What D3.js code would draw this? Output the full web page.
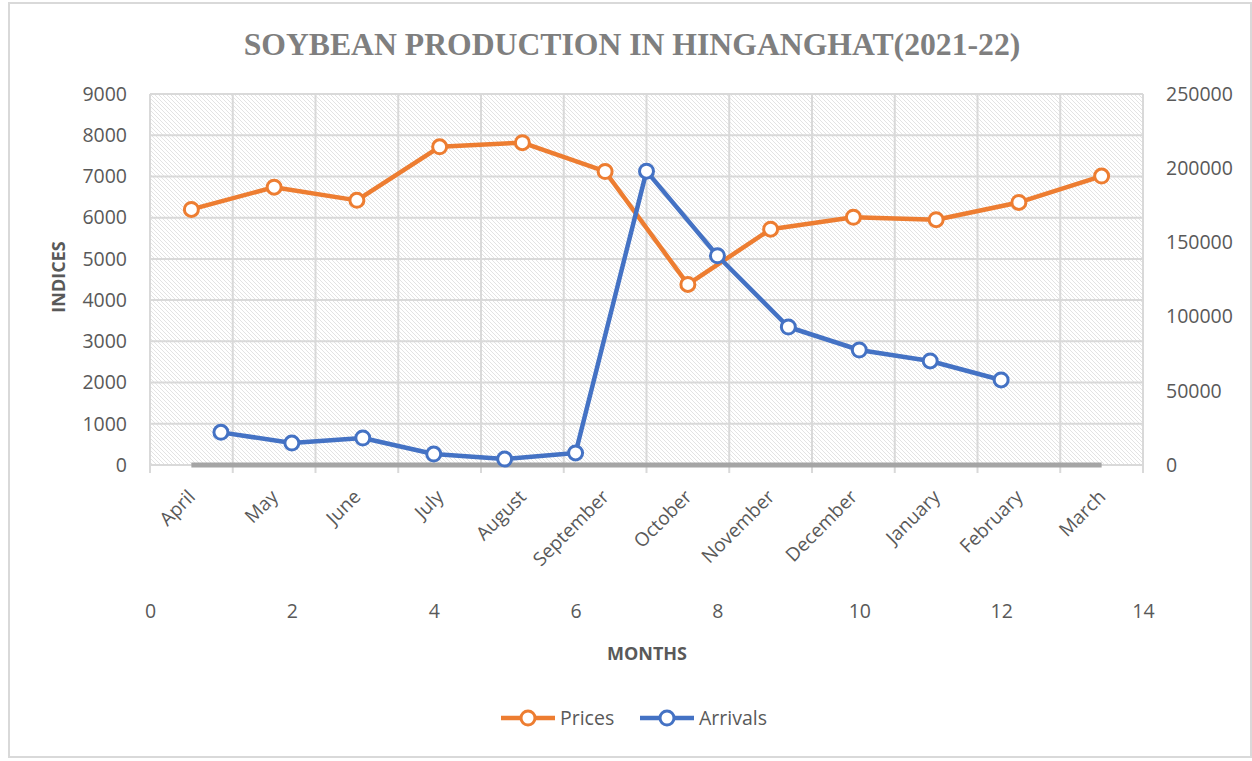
<!DOCTYPE html>
<html>
<head>
<meta charset="utf-8">
<script src="https://cdn.jsdelivr.net/npm/d3@7"></script>
<style>
  html, body { margin: 0; padding: 0; background: #fff; }
  svg { display: block; }
  text { font-family: "Open Sans", "Liberation Sans", sans-serif; }
</style>
</head>
<body>
<svg id="chart" width="1252" height="761"></svg>
<script>
const months = ["April","May","June","July","August","September","October","November","December","January","February","March"];
const prices = [6200, 6740, 6420, 7720, 7820, 7120, 4380, 5720, 6010, 5950, 6370, 7010];
const baseline = [0, 0, 0, 0, 0, 0, 0, 0, 0, 0, 0, 0];
const arrivalMonths = [1, 2, 3, 4, 5, 6, 7, 8, 9, 10, 11, 12];
const arrivals = [22000, 14800, 18200, 7400, 4000, 8100, 198000, 141000, 93000, 77500, 70100, 57300];
const leftTicks = [0, 1000, 2000, 3000, 4000, 5000, 6000, 7000, 8000, 9000];
const rightTicks = [0, 50000, 100000, 150000, 200000, 250000];
const bottomTicks = [0, 2, 4, 6, 8, 10, 12, 14];

const L = 150, R = 1143, T = 94, B = 465;
const textColor = "#595959", gridColor = "#d9d9d9";
const orange = "#ED7D31", blue = "#4472C4", gray = "#A5A5A5";
const fmt = d3.format("d");

const svg = d3.select("#chart");

// outer border
svg.append("rect").attr("x", 9).attr("y", 3).attr("width", 1242).attr("height", 754)
  .attr("fill", "#fff").attr("stroke", gridColor).attr("stroke-width", 2);

// pattern
const defs = svg.append("defs");
const pat = defs.append("pattern").attr("id", "hatch").attr("patternUnits", "userSpaceOnUse")
  .attr("width", 4).attr("height", 4);
pat.append("rect").attr("width", 4).attr("height", 4).attr("fill", "#fff");
pat.append("path").attr("d", "M-1,-1 L5,5 M-1,3 L1,5 M3,-1 L5,1")
  .attr("stroke", "#e3e3e3").attr("stroke-width", 1);

const xBand = d3.scaleBand().domain(months).range([L, R]).padding(0);
const xc = m => xBand(m) + xBand.bandwidth() / 2;
const xLin = d3.scaleLinear().domain([0, 14]).range([L, R]);
const yL = d3.scaleLinear().domain([0, 9000]).range([B, T]);
const yR = d3.scaleLinear().domain([0, 250000]).range([B, T]);

svg.append("rect").attr("x", L).attr("y", T).attr("width", R - L).attr("height", B - T)
  .attr("fill", "url(#hatch)");

// title
svg.append("text").attr("x", 632).attr("y", 55).attr("text-anchor", "middle")
  .style("font-family", "'Liberation Serif', 'Times New Roman', serif")
  .attr("font-weight", "bold").attr("font-size", 31.7).attr("fill", "#7f7f7f")
  .text("SOYBEAN PRODUCTION IN HINGANGHAT(2021-22)");

// horizontal gridlines
svg.append("g").selectAll("line").data(leftTicks).join("line")
  .attr("x1", L).attr("x2", R).attr("y1", d => yL(d)).attr("y2", d => yL(d))
  .attr("stroke", gridColor).attr("stroke-width", 2);

// vertical gridlines at category boundaries (with tick extension)
const bounds = months.map(m => xBand(m)).concat([R]);
svg.append("g").selectAll("line").data(bounds).join("line")
  .attr("x1", d => d).attr("x2", d => d).attr("y1", T).attr("y2", B + 8)
  .attr("stroke", gridColor).attr("stroke-width", 2);

// left axis
const gl = svg.append("g").attr("transform", `translate(${L},0)`)
  .call(d3.axisLeft(yL).tickValues(leftTicks).tickFormat(fmt).tickSize(0).tickPadding(23));
gl.select(".domain").remove();
gl.selectAll("text").attr("font-size", 19.5).attr("fill", textColor)
  .style("font-family", "'Open Sans', sans-serif");

// right axis
const gr = svg.append("g").attr("transform", `translate(${R},0)`)
  .call(d3.axisRight(yR).tickValues(rightTicks).tickFormat(fmt).tickSize(0).tickPadding(23));
gr.select(".domain").remove();
gr.selectAll("text").attr("font-size", 19.5).attr("fill", textColor)
  .style("font-family", "'Open Sans', sans-serif");

// bottom numeric axis
const gb = svg.append("g").attr("transform", `translate(0,604)`)
  .call(d3.axisBottom(xLin).tickValues(bottomTicks).tickFormat(fmt).tickSize(0).tickPadding(0));
gb.select(".domain").remove();
gb.selectAll("text").attr("font-size", 19.5).attr("fill", textColor)
  .style("font-family", "'Open Sans', sans-serif");

// category labels
const gc = svg.append("g").attr("transform", `translate(0,${B})`)
  .call(d3.axisBottom(xBand).tickSize(0).tickPadding(0));
gc.select(".domain").remove();
gc.selectAll("text")
  .attr("text-anchor", "end").attr("dy", null).attr("y", 0)
  .attr("transform", "translate(5,33) rotate(-45)")
  .attr("font-size", 19).attr("fill", textColor)
  .style("font-family", "'Open Sans', sans-serif");

// axis titles
svg.append("text").attr("transform", "translate(65,277) rotate(-90)").attr("text-anchor", "middle")
  .attr("font-size", 18).attr("font-weight", "bold").attr("fill", textColor).text("INDICES");
svg.append("text").attr("x", 647).attr("y", 660).attr("text-anchor", "middle")
  .attr("font-size", 18).attr("font-weight", "bold").attr("fill", textColor).text("MONTHS");

// baseline series (gray)
svg.append("path").datum(baseline.map((v, i) => [xc(months[i]), yL(v)]))
  .attr("d", d3.line()).attr("fill", "none").attr("stroke", gray).attr("stroke-width", 5);

// prices line
const pricePts = prices.map((v, i) => [xc(months[i]), yL(v)]);
svg.append("path").datum(pricePts).attr("d", d3.line()).attr("fill", "none")
  .attr("stroke", orange).attr("stroke-width", 4.5).attr("stroke-linejoin", "round");
svg.append("g").selectAll("circle").data(pricePts).join("circle")
  .attr("cx", d => d[0]).attr("cy", d => d[1]).attr("r", 7)
  .attr("fill", "#fff").attr("stroke", orange).attr("stroke-width", 3);

// arrivals line
const arrPts = arrivals.map((v, i) => [xLin(arrivalMonths[i]), yR(v)]);
svg.append("path").datum(arrPts).attr("d", d3.line()).attr("fill", "none")
  .attr("stroke", blue).attr("stroke-width", 4.5).attr("stroke-linejoin", "round");
svg.append("g").selectAll("circle").data(arrPts).join("circle")
  .attr("cx", d => d[0]).attr("cy", d => d[1]).attr("r", 7)
  .attr("fill", "#fff").attr("stroke", blue).attr("stroke-width", 3);

// legend
const legend = [
  { name: "Prices", color: orange, x: 501 },
  { name: "Arrivals", color: blue, x: 640 }
];
const lg = svg.append("g").selectAll("g").data(legend).join("g")
  .attr("transform", d => `translate(${d.x},718)`);
lg.append("line").attr("x1", 0).attr("x2", 54).attr("y1", 0).attr("y2", 0)
  .attr("stroke", d => d.color).attr("stroke-width", 4.5);
lg.append("circle").attr("cx", 27).attr("cy", 0).attr("r", 7).attr("fill", "#fff")
  .attr("stroke", d => d.color).attr("stroke-width", 3);
lg.append("text").attr("x", 59).attr("y", 0).attr("dy", "0.35em")
  .attr("font-size", 19.5).attr("fill", textColor).text(d => d.name);
</script>
</body>
</html>
